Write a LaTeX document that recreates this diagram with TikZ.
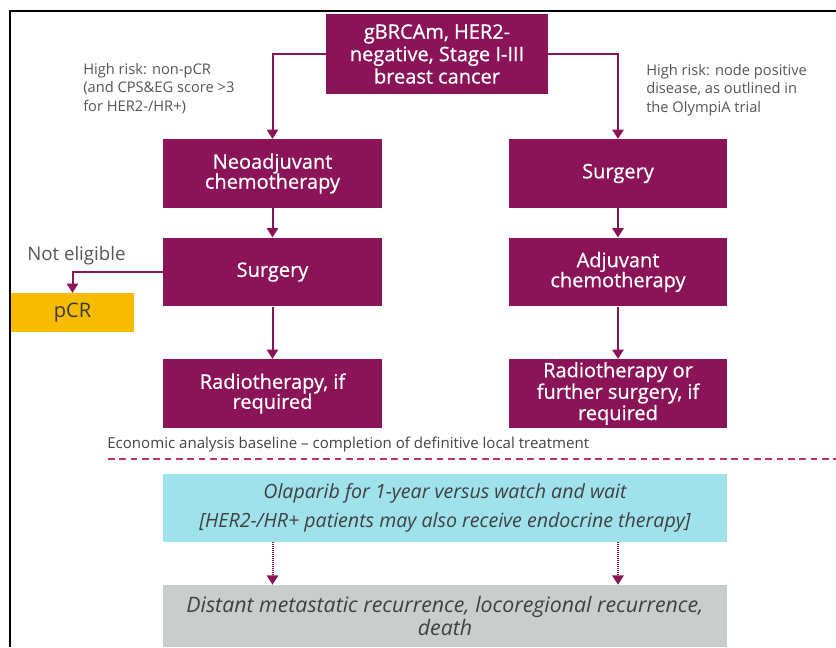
\documentclass[tikz,border=0pt]{standalone}
\usepackage{fontspec}
\setmainfont{Open Sans}
\newfontfamily\stagefont[FakeBold=0.7]{Open Sans}
\usepackage{xcolor}
\usepackage{tikz}
\usetikzlibrary{positioning,arrows.meta}
\definecolor{plum}{HTML}{8B1458}
\definecolor{dashpink}{HTML}{C2336F}
\definecolor{aqua}{HTML}{A0E2EC}
\definecolor{stone}{HTML}{C9CECC}
\definecolor{gold}{HTML}{F7BB00}
\definecolor{labelgray}{HTML}{555555}
\tikzset{
stage/.style={
fill=plum,
text=white,
minimum width=164pt,
minimum height=51.5pt,
align=center,
inner sep=2pt,
font=\stagefont\fontsize{15}{15}\selectfont
},
note/.style={
text=labelgray,
align=left,
inner sep=0pt,
font=\fontsize{11}{13.9}\selectfont
},
arrow/.style={
-{Triangle[length=7pt,width=8.5pt]},
draw=plum,
line width=1.5pt
},
dotarrow/.style={
arrow,
line width=1.5pt,
dash pattern=on 0.9pt off 0.6pt
}
}

\begin{document}
\begin{tikzpicture}[x=0.75pt,y=-0.75pt]

\useasboundingbox (0,0) rectangle (836,647);

\draw[line width=1.5pt] (836,11) -- (10,11) -- (10,647);

\node[stage,minimum width=166.5pt,minimum height=60pt,font=\stagefont\fontsize{15}{16.8}\selectfont](dx) at (437,54){gBRCAm, HER2-\\negative, Stage I-III\\breast cancer};

\node[stage](neo) at (272.5,173.5){Neoadjuvant\\chemotherapy};

\node[stage](surgL) at (272.5,272){Surgery};

\node[stage](radL) at (272.5,393.5){Radiotherapy, if\\required};

\node[stage](surgR) at (618,173.5){Surgery};

\node[stage](adj) at (618,272){Adjuvant\\chemotherapy};

\node[stage,font=\stagefont\fontsize{15}{14}\selectfont](radR) at (618,393.5){Radiotherapy or\\further surgery, if\\required};

\node[fill=gold,text=labelgray!70!black,minimum width=92pt,minimum height=29pt,font=\fontsize{15}{15}\selectfont](pcr) at (72.5,312.5){pCR};

\node[note,anchor=north west](riskL) at (83,63){High risk: non-pCR\\(and CPS\&EG score >3\\for HER2-/HR+)};

\node[note,anchor=north west](riskR) at (646,64){High risk: node positive\\disease, as outlined in\\the OlympiA trial};

\node[note,anchor=west,font=\fontsize{14}{15}\selectfont](noelig) at (27,256){Not eligible};

\node[note,anchor=west,text=labelgray!80!black,font=\fontsize{11.3}{12}\selectfont](econ) at (107,445){Economic analysis baseline -- completion of definitive local treatment};

\coordinate (dashL) at (108,459);

\coordinate (dashR) at (836,459);

\draw[dashpink,line width=1.5pt,dash pattern=on 5pt off 3.5pt](dashL)--(dashR);

\node[fill=aqua,text=black!75,minimum width=423pt,minimum height=51pt,align=center,font=\fontsize{14.7}{22}\selectfont\itshape](olap) at (445,508){Olaparib for 1-year versus watch and wait\\{}[HER2-/HR+ patients may also receive endocrine therapy]};

\node[fill=stone,text=black!75,minimum width=423pt,minimum height=46.5pt,align=center,font=\fontsize{16}{15.5}\selectfont\itshape](outc) at (445,616){Distant metastatic recurrence, locoregional recurrence,\\death};

\draw[arrow](dx.west)-|(neo.north);

\draw[arrow](dx.east)-|(surgR.north);

\draw[arrow](neo)--(surgL);

\draw[arrow](surgL)--(radL);

\draw[arrow](surgR)--(adj);

\draw[arrow](adj)--(radR);

\draw[arrow](surgL.west)-|(pcr.north);

\draw[dotarrow](olap.south -| neo.south)--(outc.north -| neo.south);

\draw[dotarrow](olap.south -| surgR.south)--(outc.north -| surgR.south);

\end{tikzpicture}
\end{document}
